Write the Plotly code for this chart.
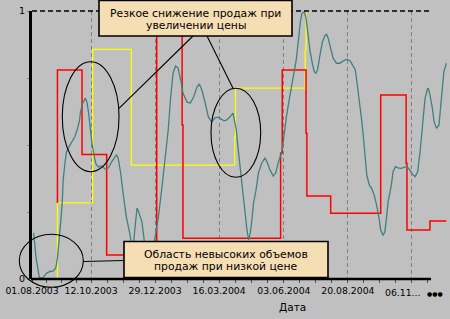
import pandas as pd
import plotly.graph_objects as go

START = pd.Timestamp("2003-08-01")

# Sales volume (normalised 0..1), days since 01.08.2003
teal_day = [2, 5, 9, 13, 18, 22, 26, 29, 31, 33, 35, 37, 38, 40, 42, 45, 48, 52, 55, 58,
            59, 62, 65, 67, 69, 71, 73, 76, 78, 81, 85, 89, 93, 97, 101, 103, 105, 108, 111, 115,
            119, 122, 123, 125, 127, 128, 130, 134, 137, 143, 149, 152, 154, 158, 162, 166, 169, 172, 175, 178,
            182, 184, 189, 193, 197, 201, 204, 207, 211, 215, 219, 223, 227, 230, 234, 237, 241, 245, 247, 249,
            251, 253, 256, 258, 260, 262, 264, 266, 268, 270, 273, 276, 280, 284, 287, 290, 294, 297, 300, 304,
            306, 308, 310, 314, 318, 322, 325, 327, 329, 332, 334, 336, 339, 342, 344, 346, 348, 351, 354, 357,
            359, 361, 364, 367, 371, 375, 379, 384, 388, 390, 394, 396, 398, 400, 402, 404, 406, 408, 411, 414,
            417, 420, 423, 425, 428, 430, 432, 434, 438, 440, 443, 446, 450, 453, 456, 459, 463, 467, 470, 473,
            475, 477, 479, 482, 483, 485, 488, 490, 493, 496, 498, 500, 502, 505]
teal_val = [0.172, 0.078, 0.004, 0.004, 0.022, 0.028, 0.030, 0.041, 0.078, 0.138, 0.213, 0.295, 0.369, 0.429, 0.474, 0.493, 0.507, 0.530, 0.556, 0.593,
            0.623, 0.657, 0.675, 0.660, 0.619, 0.567, 0.507, 0.455, 0.429, 0.418, 0.422, 0.410, 0.414, 0.437, 0.455, 0.463, 0.451, 0.396, 0.321, 0.231,
            0.172, 0.127, 0.100, 0.175, 0.243, 0.265, 0.250, 0.213, 0.138, 0.078, 0.138, 0.190, 0.231, 0.332, 0.433, 0.556, 0.679, 0.769, 0.795, 0.787,
            0.731, 0.694, 0.660, 0.657, 0.679, 0.716, 0.728, 0.705, 0.657, 0.604, 0.586, 0.601, 0.604, 0.597, 0.590, 0.593, 0.604, 0.619, 0.593, 0.556,
            0.493, 0.433, 0.369, 0.306, 0.231, 0.183, 0.146, 0.172, 0.220, 0.284, 0.332, 0.396, 0.433, 0.451, 0.433, 0.407, 0.384, 0.396, 0.433, 0.470,
            0.507, 0.556, 0.604, 0.679, 0.754, 0.817, 0.899, 0.959, 0.991, 0.997, 0.973, 0.923, 0.848, 0.799, 0.774, 0.768, 0.780, 0.836, 0.885, 0.908,
            0.913, 0.898, 0.861, 0.824, 0.805, 0.805, 0.813, 0.820, 0.813, 0.801, 0.780, 0.736, 0.693, 0.649, 0.587, 0.525, 0.463, 0.388, 0.351, 0.338,
            0.313, 0.276, 0.226, 0.183, 0.162, 0.176, 0.226, 0.288, 0.351, 0.400, 0.419, 0.415, 0.413, 0.417, 0.419, 0.413, 0.394, 0.382, 0.400, 0.475,
            0.537, 0.612, 0.674, 0.709, 0.712, 0.687, 0.637, 0.587, 0.562, 0.575, 0.637, 0.712, 0.774, 0.805]

# Price (red step line)
red_day = [31, 31, 61, 91, 152, 183, 184, 303, 305, 334, 335, 364, 425, 456, 457, 485, 505]
red_val = [0.284, 0.780, 0.465, 0.090, 0.948, 0.575, 0.152, 0.470, 0.780, 0.544, 0.310, 0.245, 0.687, 0.432, 0.183, 0.216, 0.216]

# Second price series (yellow step line)
yellow_day = [31, 31, 74, 121, 247, 248, 333, 334]
yellow_val = [0.0, 0.284, 0.857, 0.425, 0.531, 0.712, 0.854, 1.0]

tick_dates = ["2003-08-01", "2003-10-12", "2003-12-29", "2004-03-16",
              "2004-06-03", "2004-08-20", "2004-11-06"]
tick_text = ["01.08.2003", "12.10.2003", "29.12.2003", "16.03.2004",
             "03.06.2004", "20.08.2004", ""]
last_tick_text = "06.11..."
y_tick_vals = [0, 0.25, 0.5, 0.75, 1]
y_tick_text = ["0", "", "", "", "1"]
note_top = ["Резкое снижение продаж при", "увеличении цены"]
note_bottom = ["Область невысоких объемов", "продаж при низкой цене"]
x_title = "Дата"
more_mark = "\u25cf\u25cf\u25cf"

# ---------------- layout geometry ----------------
W, H = 450, 319
L, R, T, B = 32, 0, 11, 40
DAYS_PER_PX = 78 / 64


def px(x):
    return (x - L) / (W - L - R)


def py(y):
    return (H - B - y) / (H - T - B)


def to_dates(days):
    return [START + pd.Timedelta(days=d) for d in days]


BG = "#c0c0c0"
FONT = "DejaVu Sans"

fig = go.Figure()
fig.add_trace(go.Scatter(x=to_dates(yellow_day), y=yellow_val, mode="lines",
                         line=dict(color="#ffff00", width=1.3, shape="hv"), hoverinfo="skip"))
fig.add_trace(go.Scatter(x=to_dates(red_day), y=red_val, mode="lines",
                         line=dict(color="#ff0000", width=1.5, shape="hv"), hoverinfo="skip"))
fig.add_trace(go.Scatter(x=to_dates(teal_day), y=teal_val, mode="lines",
                         line=dict(color="#408080", width=1.3), hoverinfo="skip"))

major = [pd.Timestamp(d) for d in tick_dates]
minor = []
for a, b in zip(major[:-1], major[1:]):
    for k in range(1, 4):
        minor.append(a + (b - a) * k / 4)
minor.append(major[-1] + (major[-1] - major[-2]) / 4)

x_end = START + pd.Timedelta(days=(W - L - R) * DAYS_PER_PX)

shapes = []
# top dashed line at 1
shapes.append(dict(type="line", xref="paper", yref="paper", x0=px(32), x1=px(432), y0=1, y1=1,
                   line=dict(color="black", width=1.5, dash="5px,3px"), layer="above"))
# bottom axis line
shapes.append(dict(type="line", xref="paper", yref="paper", x0=px(31), x1=px(431), y0=0, y1=0,
                   line=dict(color="black", width=2.5), layer="above"))
# ellipses
for (x0, y0, x1, y1) in [(62.3, 61.7, 119, 171.7), (211, 88.3, 260.7, 177.3), (19.3, 234.3, 83.3, 287.3)]:
    shapes.append(dict(type="circle", xref="paper", yref="paper", x0=px(x0), x1=px(x1),
                       y0=py(y1), y1=py(y0), line=dict(color="black", width=1.1), layer="above"))
# leader lines
for (x0, y0, x1, y1) in [(119, 108.3, 193, 36), (207, 36, 233, 88.3), (83.3, 261.5, 124, 260.5)]:
    shapes.append(dict(type="line", xref="paper", yref="paper", x0=px(x0), x1=px(x1),
                       y0=py(y0), y1=py(y1), line=dict(color="black", width=1.1), layer="above"))
# note boxes
for (x0, y0, x1, y1) in [(99, 0.5, 292, 36), (124, 241.5, 328, 277.5)]:
    shapes.append(dict(type="rect", xref="paper", yref="paper", x0=px(x0), x1=px(x1),
                       y0=py(y1), y1=py(y0), fillcolor="#f6deb4",
                       line=dict(color="black", width=1.6), layer="above"))

annotations = []
for text, (x, y) in zip(note_top + note_bottom, [(195.5, 13.5), (195.5, 25.5), (226, 254), (226, 266)]):
    annotations.append(dict(text=text, xref="paper", yref="paper", x=px(x), y=py(y),
                            xanchor="center", yanchor="middle", showarrow=False,
                            font=dict(family=FONT, size=10.8, color="black")))
annotations.append(dict(text=x_title, xref="paper", yref="paper", x=px(292), y=py(306.5),
                        xanchor="center", yanchor="middle", showarrow=False,
                        font=dict(family=FONT, size=10.5, color="black")))
annotations.append(dict(text=last_tick_text, xref="paper", yref="paper", x=px(383), y=py(292.5),
                        xanchor="left", yanchor="middle", showarrow=False,
                        font=dict(family=FONT, size=9.3, color="black")))
annotations.append(dict(text=more_mark, xref="paper", yref="paper", x=px(434.5), y=py(293.5),
                        xanchor="center", yanchor="middle", showarrow=False,
                        font=dict(family=FONT, size=6, color="black")))

fig.update_layout(
    width=W, height=H,
    margin=dict(l=L, r=R, t=T, b=B, autoexpand=False),
    paper_bgcolor=BG, plot_bgcolor=BG,
    showlegend=False,
    font=dict(family=FONT, size=9.3, color="black"),
    xaxis=dict(type="date", range=[START, x_end], tickmode="array", tickvals=major, ticktext=tick_text,
               showgrid=True, gridcolor="#808080", gridwidth=1, griddash="4px,3px",
               ticks="outside", ticklen=3, tickcolor="#505050", showline=False, zeroline=False,
               minor=dict(tickmode="array", tickvals=minor, ticks="outside", ticklen=3,
                          tickcolor="#505050", showgrid=False),
               tickfont=dict(family=FONT, size=9.3, color="black"), automargin=False, fixedrange=True),
    yaxis=dict(range=[0, 1], tickmode="array", tickvals=y_tick_vals, ticktext=y_tick_text,
               showgrid=False, zeroline=False, showline=True, linecolor="black", linewidth=3,
               ticks="outside", ticklen=2, tickcolor="#808080",
               tickfont=dict(family=FONT, size=9.5, color="black"), automargin=False, fixedrange=True),
    shapes=shapes, annotations=annotations,
)

fig.write_html("out.html")
